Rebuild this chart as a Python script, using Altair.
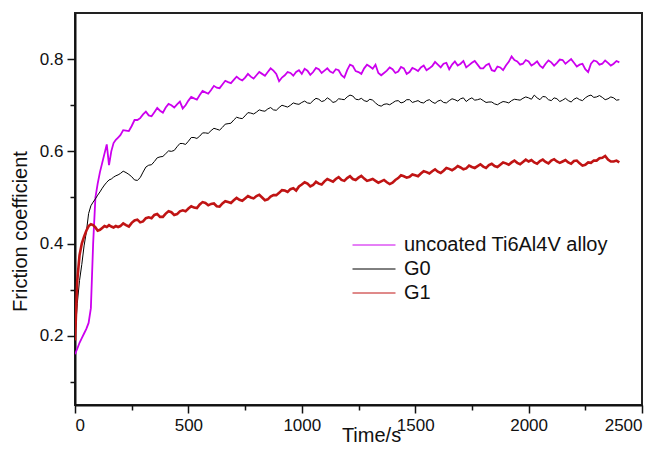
import altair as alt
import pandas as pd

time_s = [0, 10, 20, 30, 40, 50, 60, 70, 80, 90, 100, 110, 120, 130, 140, 150, 160, 170, 180, 190,
          200, 225, 250, 275, 300, 325, 350, 375, 400, 425, 450, 475, 500, 525, 550, 575,
          600, 625, 650, 675, 700, 725, 750, 775, 800, 825, 850, 875, 900, 925, 950, 975,
          1000, 1025, 1050, 1075, 1100, 1125, 1150, 1175, 1200, 1225, 1250, 1275, 1300, 1325,
          1350, 1375, 1400, 1425, 1450, 1475, 1500, 1525, 1550, 1575, 1600, 1625, 1650, 1675,
          1700, 1725, 1750, 1775, 1800, 1825, 1850, 1875, 1900, 1925, 1950, 1975,
          2000, 2025, 2050, 2075, 2100, 2125, 2150, 2175, 2200, 2225, 2250, 2275, 2300, 2325,
          2350, 2375, 2400]

uncoated = [0.16, 0.172, 0.185, 0.195, 0.205, 0.215, 0.228, 0.26, 0.40, 0.50,
            0.53, 0.555, 0.575, 0.595, 0.615, 0.57, 0.60, 0.618, 0.625, 0.63,
            0.635, 0.645, 0.655, 0.668, 0.68, 0.678, 0.685, 0.688, 0.695, 0.70,
            0.702, 0.693, 0.71, 0.715, 0.722, 0.728, 0.733, 0.738, 0.745, 0.75,
            0.755, 0.757, 0.76, 0.762, 0.765, 0.768, 0.772, 0.775, 0.752, 0.765,
            0.77, 0.772,
            0.768, 0.775, 0.772, 0.778, 0.775, 0.773, 0.778, 0.765, 0.776, 0.785,
            0.772, 0.78, 0.784, 0.788, 0.765, 0.775, 0.778, 0.773, 0.78, 0.772,
            0.778, 0.782, 0.776, 0.785, 0.788, 0.79, 0.778, 0.795, 0.79, 0.782,
            0.792, 0.788, 0.78, 0.79, 0.774, 0.782, 0.786, 0.806, 0.795, 0.79,
            0.795, 0.79, 0.786, 0.79, 0.793, 0.792, 0.798, 0.795, 0.792, 0.788,
            0.778, 0.79, 0.795, 0.79, 0.792, 0.79, 0.793]

g0 = [0.20, 0.27, 0.32, 0.355, 0.395, 0.425, 0.465, 0.482, 0.49, 0.497,
      0.505, 0.512, 0.52, 0.527, 0.533, 0.538, 0.54, 0.544, 0.547, 0.549,
      0.552, 0.554, 0.545, 0.537, 0.555, 0.57, 0.578, 0.588, 0.595, 0.60,
      0.61, 0.617, 0.622, 0.63, 0.633, 0.64, 0.645, 0.648, 0.652, 0.66,
      0.668, 0.672, 0.677, 0.683, 0.685, 0.688, 0.692, 0.69, 0.695, 0.698,
      0.70, 0.703,
      0.706, 0.705, 0.71, 0.713, 0.71, 0.712, 0.708, 0.713, 0.718, 0.72,
      0.712, 0.71, 0.713, 0.705, 0.698, 0.703, 0.705, 0.71, 0.707, 0.712,
      0.708, 0.706, 0.71, 0.707, 0.709, 0.706, 0.71, 0.712, 0.714, 0.708,
      0.716, 0.712, 0.71, 0.707, 0.703, 0.705, 0.707, 0.71, 0.712, 0.715,
      0.716, 0.722, 0.712, 0.718, 0.71, 0.714, 0.711, 0.71, 0.713, 0.712,
      0.716, 0.722, 0.718, 0.717, 0.714, 0.716, 0.712]

g1 = [0.19, 0.32, 0.375, 0.40, 0.415, 0.428, 0.438, 0.442, 0.44, 0.435,
      0.428, 0.43, 0.434, 0.438, 0.436, 0.44, 0.437, 0.435, 0.438, 0.436,
      0.438, 0.44, 0.445, 0.452, 0.448, 0.457, 0.462, 0.458, 0.465, 0.468,
      0.464, 0.472, 0.476, 0.478, 0.485, 0.488, 0.486, 0.481, 0.487, 0.49,
      0.494, 0.495, 0.498, 0.50, 0.503, 0.50, 0.496, 0.505, 0.51, 0.515,
      0.518, 0.515,
      0.528, 0.53, 0.527, 0.53, 0.535, 0.537, 0.54, 0.538, 0.542, 0.54,
      0.543, 0.541, 0.538, 0.536, 0.535, 0.533, 0.532, 0.542, 0.546, 0.545,
      0.548, 0.552, 0.555, 0.557, 0.556, 0.558, 0.562, 0.563, 0.565, 0.563,
      0.566, 0.568, 0.567, 0.57, 0.568, 0.571, 0.574, 0.576, 0.575, 0.577,
      0.578, 0.576, 0.579, 0.577, 0.58, 0.578, 0.578, 0.576, 0.579, 0.574,
      0.571, 0.575, 0.58, 0.586, 0.582, 0.578, 0.576]

# extra readings between the main samples (noise of the measured traces)
time_mid = [212.5, 237.5, 262.5, 287.5, 312.5, 337.5, 362.5, 387.5, 412.5, 437.5,
            462.5, 487.5, 512.5, 537.5, 562.5, 587.5, 612.5, 637.5, 662.5, 687.5,
            712.5, 737.5, 762.5, 787.5, 812.5, 837.5, 862.5, 887.5, 912.5, 937.5,
            962.5, 987.5,
            1012.5, 1037.5, 1062.5, 1087.5, 1112.5, 1137.5, 1162.5, 1187.5, 1212.5, 1237.5,
            1262.5, 1287.5, 1312.5, 1337.5, 1362.5, 1387.5, 1412.5, 1437.5, 1462.5, 1487.5,
            1512.5, 1537.5, 1562.5, 1587.5, 1612.5, 1637.5, 1662.5, 1687.5, 1712.5, 1737.5,
            1762.5, 1787.5, 1812.5, 1837.5, 1862.5, 1887.5, 1912.5, 1937.5, 1962.5, 1987.5,
            2012.5, 2037.5, 2062.5, 2087.5, 2112.5, 2137.5, 2162.5, 2187.5, 2212.5, 2237.5,
            2262.5, 2287.5, 2312.5, 2337.5, 2362.5, 2387.5]

uncoated_mid = [0.646, 0.644, 0.668, 0.672, 0.686, 0.676, 0.694, 0.684, 0.703, 0.695,
                0.708, 0.700, 0.718, 0.712, 0.731, 0.725, 0.742, 0.737, 0.753, 0.748,
                0.762, 0.754, 0.768, 0.758, 0.772, 0.764, 0.780, 0.768, 0.760, 0.772,
                0.764, 0.776,
                0.779, 0.766, 0.781, 0.770, 0.780, 0.770, 0.776, 0.760, 0.788, 0.774,
                0.768, 0.788, 0.779, 0.770, 0.770, 0.782, 0.770, 0.783, 0.768, 0.781,
                0.774, 0.786, 0.780, 0.794, 0.782, 0.792, 0.788, 0.786, 0.796, 0.787,
                0.796, 0.780, 0.787, 0.776, 0.784, 0.776, 0.794, 0.798, 0.788, 0.798,
                0.786, 0.795, 0.781, 0.797, 0.786, 0.799, 0.790, 0.800, 0.784, 0.790,
                0.772, 0.797, 0.788, 0.797, 0.786, 0.796]

g0_mid = [0.557, 0.550, 0.538, 0.543, 0.566, 0.571, 0.586, 0.589, 0.601, 0.602,
          0.617, 0.615, 0.630, 0.628, 0.640, 0.639, 0.650, 0.646, 0.659, 0.661,
          0.674, 0.671, 0.684, 0.681, 0.690, 0.687, 0.695, 0.689, 0.700, 0.696,
          0.705, 0.702,
          0.709, 0.704, 0.715, 0.708, 0.716, 0.706, 0.714, 0.712, 0.722, 0.713,
          0.715, 0.708, 0.711, 0.700, 0.702, 0.701, 0.709, 0.705, 0.712, 0.706,
          0.710, 0.705, 0.712, 0.704, 0.711, 0.705, 0.714, 0.709, 0.716, 0.713,
          0.711, 0.714, 0.706, 0.707, 0.701, 0.708, 0.705, 0.713, 0.711, 0.718,
          0.713, 0.716, 0.719, 0.712, 0.716, 0.708, 0.715, 0.707, 0.716, 0.710,
          0.720, 0.717, 0.721, 0.712, 0.718, 0.711]

g1_mid = [0.444, 0.437, 0.450, 0.446, 0.455, 0.455, 0.464, 0.458, 0.470, 0.462,
          0.470, 0.470, 0.481, 0.477, 0.490, 0.483, 0.487, 0.480, 0.492, 0.488,
          0.499, 0.493, 0.503, 0.498, 0.506, 0.494, 0.502, 0.505, 0.516, 0.512,
          0.520, 0.524,
          0.533, 0.524, 0.534, 0.528, 0.540, 0.534, 0.544, 0.536, 0.546, 0.538,
          0.547, 0.536, 0.540, 0.532, 0.538, 0.529, 0.538, 0.548, 0.543, 0.550,
          0.546, 0.557, 0.552, 0.561, 0.553, 0.564, 0.559, 0.568, 0.561, 0.569,
          0.564, 0.572, 0.564, 0.573, 0.566, 0.576, 0.571, 0.580, 0.572, 0.582,
          0.581, 0.573, 0.582, 0.574, 0.583, 0.575, 0.581, 0.573, 0.580, 0.569,
          0.576, 0.580, 0.585, 0.590, 0.578, 0.580]

series_names = ["uncoated Ti6Al4V alloy", "G0", "G1"]
series_colors = ["#cc00ee", "#000000", "#c01414"]
series_widths = [1.8, 1.0, 2.6]

main = pd.DataFrame({"t": time_s, series_names[0]: uncoated, series_names[1]: g0, series_names[2]: g1})
mid = pd.DataFrame({"t": time_mid, series_names[0]: uncoated_mid, series_names[1]: g0_mid,
                    series_names[2]: g1_mid})
wide = pd.concat([main, mid]).sort_values("t").reset_index(drop=True)
df = wide.melt(id_vars="t", var_name="sample", value_name="mu")

x_vals = [0, 250, 500, 750, 1000, 1250, 1500, 1750, 2000, 2250, 2500]
y_vals = [0.1, 0.2, 0.3, 0.4, 0.5, 0.6, 0.7, 0.8]

font = "Liberation Sans"
y_major = "round(datum.value * 10) % 2 === 0"
x_major = "datum.value % 500 === 0"

x_enc = alt.X("t:Q", scale=alt.Scale(domain=[0, 2500], nice=False, zero=False),
              axis=alt.Axis(title="Time/s", values=x_vals,
                            labelExpr=x_major + " ? format(datum.value, 'd') : ''",
                            tickSize=alt.condition(x_major, alt.value(8), alt.value(5)),
                            titleX=296, titleY=30, titleBaseline="middle", titleAlign="center"))
y_enc = alt.Y("mu:Q", scale=alt.Scale(domain=[0.05, 0.9], nice=False, zero=False),
              axis=alt.Axis(title="Friction coefficient", values=y_vals,
                            labelExpr=y_major + " ? format(datum.value, '.1f') : ''",
                            tickSize=alt.condition(y_major, alt.value(8), alt.value(5)),
                            titleX=-55, titleY=218, titleBaseline="middle", titleAlign="center",
                            titleAngle=-90))
color_scale = alt.Scale(domain=series_names, range=series_colors)
legend = alt.Legend(title=None, orient="none", legendX=277, legendY=222,
                    symbolType="stroke", symbolSize=1849, symbolStrokeWidth=1,
                    clipHeight=20, rowPadding=4, labelOffset=8, labelLimit=0,
                    labelFontSize=20, labelFont=font, labelColor="#111", padding=0)

layers = []
for name, w in zip(series_names, series_widths):
    leg = legend if name == "G0" else None
    layers.append(
        alt.Chart(df).transform_filter(alt.datum.sample == name)
        .mark_line(clip=True, strokeWidth=w)
        .encode(x=x_enc, y=y_enc, color=alt.Color("sample:N", scale=color_scale, legend=leg))
    )

chart = alt.layer(*layers).resolve_legend(color="independent").properties(
    width=567, height=392,
    padding={"left": 67, "top": 5, "right": 10, "bottom": 39},
    autosize=alt.AutoSizeParams(type="none"),
).configure_view(
    stroke="#222", strokeWidth=2
).configure_axis(
    grid=False, domainColor="#111", domainWidth=2, tickColor="#111", tickWidth=1.5,
    labelFont=font, labelFontSize=17, labelColor="#111", labelPadding=4,
    titleFont=font, titleFontSize=20, titleFontWeight="normal", titleColor="#111",
).configure_legend(
    symbolStrokeWidth=1
)

chart.save("out.html", embed_options={"renderer": "svg", "actions": False})
